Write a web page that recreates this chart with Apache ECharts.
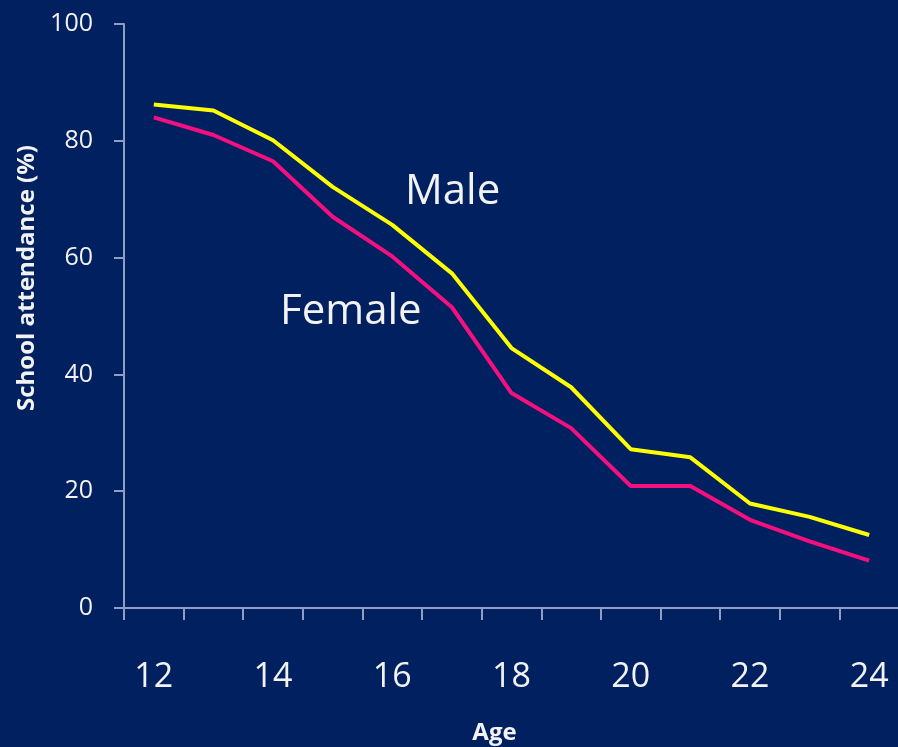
<!DOCTYPE html>
<html>
<head>
<meta charset="utf-8">
<title>School attendance by age</title>
<script src="https://cdn.jsdelivr.net/npm/echarts@6/dist/echarts.min.js"></script>
<style>
  html, body { margin: 0; padding: 0; background: #002060; }
  #chart { width: 898px; height: 747px; }
</style>
</head>
<body>
<div id="chart"></div>
<script>
// Age groups on the category axis
const ages = ['12', '13', '14', '15', '16', '17', '18', '19', '20', '21', '22', '23', '24'];

// School attendance (%) by age
const male   = [86.2, 85.2, 80.1, 72.1, 65.6, 57.3, 44.5, 37.8, 27.2, 25.8, 17.9, 15.6, 12.5];
const female = [84.0, 81.0, 76.5, 67.0, 60.2, 51.5, 36.8, 30.8, 20.9, 20.9, 15.1, 11.4, 8.1];

// Y axis ticks
const yTicks = [0, 20, 40, 60, 80, 100];

const FONT = '"Open Sans", "DejaVu Sans", sans-serif';
const TEXT = '#f2f2f2';
const AXIS = '#8d9fc4';

const chart = echarts.init(document.getElementById('chart'), null, { renderer: 'canvas' });

chart.setOption({
  backgroundColor: '#002060',
  animation: false,
  grid: { left: 124, top: 24, right: -1, bottom: 139, containLabel: false, outerBoundsMode: 'none' },
  xAxis: {
    type: 'category',
    data: ages,
    boundaryGap: true,
    name: 'Age',
    nameLocation: 'middle',
    nameGap: 113,
    nameTextStyle: { color: TEXT, fontFamily: FONT, fontSize: 24, fontWeight: 'bold', padding: [0, 34, 0, 0] },
    axisLine: { lineStyle: { color: AXIS, width: 2 } },
    axisTick: { show: true, interval: 0, length: 12, lineStyle: { color: AXIS, width: 2 } },
    axisLabel: { interval: 1, color: TEXT, fontFamily: FONT, fontSize: 34, margin: 52 },
    splitLine: { show: false }
  },
  yAxis: {
    type: 'value',
    min: yTicks[0],
    max: yTicks[yTicks.length - 1],
    interval: yTicks[1] - yTicks[0],
    name: 'School attendance (%)',
    nameLocation: 'middle',
    nameGap: 84,
    nameRotate: 90,
    nameTextStyle: { color: TEXT, fontFamily: FONT, fontSize: 24, fontWeight: 'bold', padding: [0, 0, 0, 76] },
    axisLine: { show: true, lineStyle: { color: AXIS, width: 2 } },
    axisTick: { show: true, length: 10, lineStyle: { color: AXIS, width: 2 } },
    axisLabel: { color: TEXT, fontFamily: FONT, fontSize: 25, margin: 31 },
    splitLine: { show: false }
  },
  series: [
    {
      name: 'Male',
      type: 'line',
      data: male,
      symbol: 'none',
      lineStyle: { color: '#ffff00', width: 4 },
      z: 3
    },
    {
      name: 'Female',
      type: 'line',
      data: female,
      symbol: 'none',
      lineStyle: { color: '#f5107f', width: 4 },
      z: 2
    }
  ],
  graphic: [
    {
      type: 'text',
      left: 405,
      top: 171,
      style: { text: 'Male', fill: TEXT, font: '42px ' + FONT }
    },
    {
      type: 'text',
      left: 280,
      top: 291,
      style: { text: 'Female', fill: TEXT, font: '42px ' + FONT }
    }
  ]
});
</script>
</body>
</html>
